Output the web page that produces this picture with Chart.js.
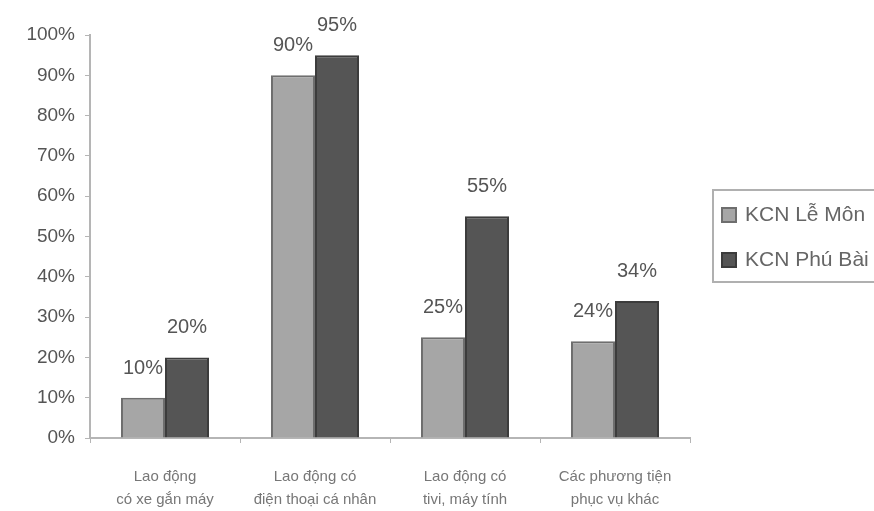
<!DOCTYPE html>
<html>
<head>
<meta charset="utf-8">
<script src="https://cdn.jsdelivr.net/npm/chart.js@4.4.0/dist/chart.umd.min.js"></script>
<style>
  html, body { margin: 0; padding: 0; background: #fff; overflow: hidden; }
  #wrap { width: 874px; height: 511px; position: relative; }
</style>
</head>
<body>
<div id="wrap"><canvas id="myChart" width="874" height="511"></canvas></div>
<script>
// categories (two lines each)
let categories = [
    ['Lao động', 'có xe gắn máy'],
    ['Lao động có', 'điện thoại cá nhân'],
    ['Lao động có', 'tivi, máy tính'],
    ['Các phương tiện', 'phục vụ khác']
]

let seriesNames = ['KCN Lễ Môn', 'KCN Phú Bài']
let leMon = [10, 90, 25, 24]
let phuBai = [20, 95, 55, 34]

let yTicks = [0, 10, 20, 30, 40, 50, 60, 70, 80, 90, 100]

// value labels above each bar
let barLabels = {
    id: 'barLabels',
    afterDatasetsDraw(chart) {
        let ctx = chart.ctx
        ctx.save()
        ctx.font = '20px "Liberation Sans", Arial, sans-serif'
        ctx.fillStyle = '#555'
        ctx.textAlign = 'center'
        ctx.textBaseline = 'alphabetic'
        chart.data.datasets.forEach(function (ds, i) {
            chart.getDatasetMeta(i).data.forEach(function (bar, j) {
                ctx.fillText(ds.data[j] + '%', bar.x, bar.y - 24)
            })
        })
        ctx.restore()
    }
}

// boxed legend on the right, runs off the edge like the original
let boxLegend = {
    id: 'boxLegend',
    afterDraw(chart) {
        let ctx = chart.ctx
        ctx.save()
        ctx.strokeStyle = '#b0b0b0'
        ctx.lineWidth = 2
        ctx.strokeRect(713, 190, 200, 92)
        ctx.font = '21px "Liberation Sans", Arial, sans-serif'
        ctx.textBaseline = 'middle'
        chart.data.datasets.forEach(function (ds, i) {
            let y = 215 + i * 45
            ctx.fillStyle = ds.backgroundColor
            ctx.fillRect(722, y - 7, 14, 14)
            ctx.strokeStyle = ds.borderColor
            ctx.lineWidth = 2
            ctx.strokeRect(722, y - 7, 14, 14)
            ctx.fillStyle = '#666'
            ctx.fillText(ds.label, 745, y)
        })
        ctx.restore()
    }
}

Chart.defaults.font.family = '"Liberation Sans", Arial, sans-serif'
Chart.defaults.color = '#666'

let currChart = document.getElementById('myChart').getContext('2d')
let barChart = new Chart(currChart, {
    type: 'bar',
    data: {
        labels: categories,
        datasets: [{
            label: seriesNames[0],
            data: leMon,
            backgroundColor: '#a6a6a6',
            borderColor: '#6e6e6e',
            borderWidth: 2,
            borderSkipped: 'bottom'
        }, {
            label: seriesNames[1],
            data: phuBai,
            backgroundColor: '#555555',
            borderColor: '#3c3c3c',
            borderWidth: 2,
            borderSkipped: 'bottom'
        }]
    },
    options: {
        responsive: false,
        animation: false,
        layout: {
            padding: { top: 35, right: 184, left: 0, bottom: 0 }
        },
        datasets: {
            bar: { categoryPercentage: 0.587, barPercentage: 1.0 }
        },
        scales: {
            x: {
                grid: {
                    display: true,
                    drawOnChartArea: false,
                    drawTicks: true,
                    tickLength: 5,
                    color: '#b5b5b5',
                    offset: true
                },
                border: { display: true, color: '#b5b5b5', width: 2 },
                ticks: {
                    color: '#777',
                    padding: 22,
                    font: { size: 15, lineHeight: 1.55 },
                    maxRotation: 0,
                    autoSkip: false
                },
                afterFit: function (scale) { scale.height = 73 }
            },
            y: {
                min: 0,
                max: 100,
                afterBuildTicks: function (scale) {
                    scale.ticks = yTicks.map(function (v) { return { value: v } })
                },
                grid: {
                    display: true,
                    drawOnChartArea: false,
                    drawTicks: true,
                    tickLength: 5,
                    color: '#b5b5b5'
                },
                border: { display: true, color: '#b5b5b5', width: 2 },
                ticks: {
                    color: '#555',
                    padding: 10,
                    font: { size: 19 },
                    callback: function (v) { return v + '%' }
                },
                afterFit: function (scale) { scale.width = 90 }
            }
        },
        plugins: {
            legend: { display: false },
            tooltip: { enabled: false }
        }
    },
    plugins: [barLabels, boxLegend]
})
</script>
</body>
</html>
